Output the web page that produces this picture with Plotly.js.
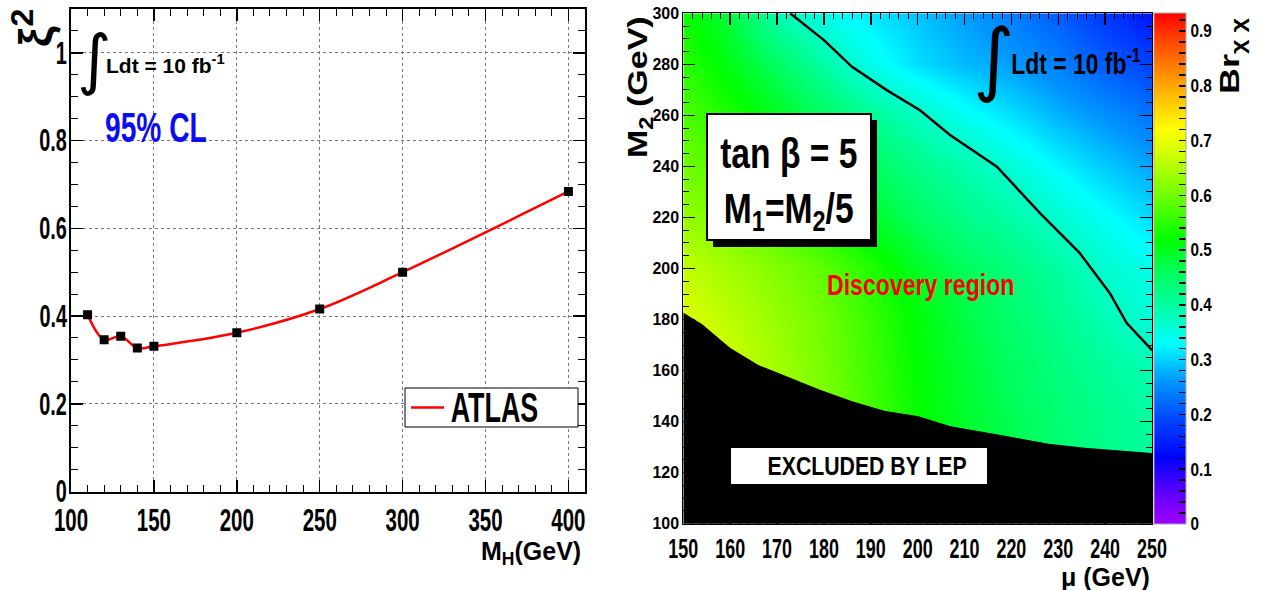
<!DOCTYPE html>
<html>
<head>
<meta charset="utf-8">
<script src="https://cdn.plot.ly/plotly-3.0.1.min.js"></script>
<style>
  html, body { margin: 0; padding: 0; background: #fff; }
  #chart { width: 1269px; height: 590px; }
</style>
</head>
<body>
<div id="chart"></div>
<script>
// ---------------- Left panel data: xi^2 limit vs M_H ----------------
const higgsMass = [110, 120, 130, 140, 150, 200, 250, 300, 400];
const xiSquared = [0.403, 0.346, 0.354, 0.327, 0.331, 0.362, 0.416, 0.500, 0.684];

// ---------------- Right panel data: Br(chi chi) in (mu, M2) plane ----------------
const muValues = [150, 160, 170, 180, 190, 200, 210, 220, 230, 240, 250];
const m2Values = [120, 140, 160, 180, 200, 220, 240, 260, 280, 300];
const brRow120 = [null, null, null, null, null, 0.530, 0.495, 0.470, 0.445, 0.420, 0.405];
const brRow140 = [null, null, 0.650, 0.610, 0.570, 0.525, 0.490, 0.465, 0.440, 0.415, 0.400];
const brRow160 = [0.710, 0.675, 0.640, 0.605, 0.565, 0.520, 0.485, 0.455, 0.430, 0.405, 0.385];
const brRow180 = [0.690, 0.660, 0.630, 0.600, 0.560, 0.515, 0.475, 0.445, 0.415, 0.385, 0.355];
const brRow200 = [0.665, 0.640, 0.615, 0.585, 0.545, 0.495, 0.460, 0.430, 0.400, 0.365, 0.345];
const brRow220 = [0.630, 0.600, 0.570, 0.535, 0.495, 0.455, 0.420, 0.395, 0.365, 0.335, 0.305];
const brRow240 = [0.600, 0.570, 0.535, 0.500, 0.460, 0.420, 0.390, 0.360, 0.325, 0.295, 0.270];
const brRow260 = [0.575, 0.540, 0.500, 0.455, 0.410, 0.375, 0.340, 0.310, 0.280, 0.255, 0.230];
const brRow280 = [0.550, 0.505, 0.455, 0.395, 0.345, 0.310, 0.285, 0.265, 0.240, 0.210, 0.185];
const brRow300 = [0.530, 0.480, 0.385, 0.345, 0.315, 0.290, 0.265, 0.240, 0.210, 0.175, 0.140];

// LEP exclusion boundary (region below is excluded)
const lepMu = [150, 154, 160, 166, 172, 179, 186, 193, 200, 207, 217, 228, 236, 246, 250];
const lepM2 = [182.5, 178, 168.7, 162, 157.6, 152.4, 147.8, 144, 142, 138, 134.8, 131.1, 129.5, 128, 127.5];

// Discovery contour line
const contourMu = [172.8, 180, 186, 193.4, 200.5, 206.9, 216.9, 226.1, 234.6, 241, 244.6, 249.5, 250];
const contourM2 = [300, 289.5, 279, 269.9, 262, 252.3, 239.9, 221.7, 206, 190.3, 178.6, 168.8, 168];

// ---------------- Styling helpers ----------------
const W = 1269, H = 590;
const px = v => v / W;
const py = v => 1 - v / H;
const SANS = '"Liberation Sans", Arial, Helvetica, sans-serif';
const ZMAX = 0.933;

const brGrid = [brRow120, brRow140, brRow160, brRow180, brRow200, brRow220, brRow240, brRow260, brRow280, brRow300];

const stops = [
  [0.00, '#a000ff'], [0.06, '#5a00ff'], [0.12, '#0000ff'], [0.19, '#0046ff'],
  [0.26, '#0096ff'], [0.33, '#00ffff'], [0.40, '#00ffa0'], [0.46, '#00ff5a'],
  [0.52, '#00ff00'], [0.60, '#70ff00'], [0.67, '#c8ff00'], [0.72, '#ffff00'],
  [0.78, '#ffbe00'], [0.84, '#ff7800'], [0.89, '#ff3c00'], [0.933, '#ff0000']
];
const colorscale = stops.map(s => [Math.min(1, s[0] / ZMAX), s[1]]);

const bold = (size, color) => ({ family: SANS, size: size, weight: 'bold', color: color || '#000' });

// ---------------- Traces ----------------
const traces = [
  {
    type: 'scatter', mode: 'lines', x: higgsMass, y: xiSquared,
    name: 'ATLAS', line: { color: '#ff0000', width: 2.5, shape: 'spline' },
    xaxis: 'x', yaxis: 'y', hoverinfo: 'skip', showlegend: false
  },
  {
    type: 'scatter', mode: 'markers', x: higgsMass, y: xiSquared,
    marker: { symbol: 'square', size: 9, color: '#000' },
    showlegend: false, xaxis: 'x', yaxis: 'y', hoverinfo: 'skip'
  },
  {
    type: 'heatmap', x: muValues, y: m2Values, z: brGrid,
    zsmooth: 'best', zmin: 0, zmax: ZMAX, colorscale: colorscale,
    xaxis: 'x2', yaxis: 'y2', showlegend: false, hoverinfo: 'skip',
    colorbar: {
      x: px(1154), xanchor: 'left', y: 1 - 524 / H, yanchor: 'bottom',
      len: 511 / H, lenmode: 'fraction', thickness: 32, thicknessmode: 'pixels',
      xpad: 0, ypad: 0, outlinewidth: 1, outlinecolor: '#aaa',
      ticks: 'inside', ticklen: 7, tickwidth: 1.5, tickcolor: '#000',
      tick0: 0, dtick: 0.02, ticklabelstep: 5,
      tickfont: bold(18)
    }
  },
  {
    type: 'scatter', mode: 'lines', x: lepMu, y: lepM2,
    fill: 'tozeroy', fillcolor: '#000', line: { color: '#000', width: 1 },
    xaxis: 'x2', yaxis: 'y2', showlegend: false, hoverinfo: 'skip'
  },
  {
    type: 'scatter', mode: 'lines', x: contourMu, y: contourM2,
    line: { color: '#000', width: 2.5 },
    xaxis: 'x2', yaxis: 'y2', showlegend: false, hoverinfo: 'skip'
  }
];

// annotations with their horizontal squeeze factor (condensed lettering of the original)
const annSpecs = [
  [{ x: px(494), y: py(407), text: 'ATLAS', font: bold(42) }, 0.64],
  [{ x: px(94), y: py(60), text: '∫', font: { family: '"DejaVu Sans", sans-serif', size: 66, color: '#000' } }, 1],
  [{ x: px(165), y: py(64), text: 'Ldt = 10 fb<sup>-1</sup>', font: bold(21) }, 1],
  [{ x: px(156), y: py(127), text: '95% CL', font: bold(42, '#0b0bf5') }, 0.67],
  [{ x: px(33), y: py(28), textangle: -90, text: 'ξ<sup>2</sup>', font: bold(46) }, 1],
  [{ x: px(583), y: py(553), xanchor: 'right', text: 'M<sub>H</sub>(GeV)', font: bold(25) }, 1],
  [{ x: px(994), y: py(58), text: '∫', font: { family: '"DejaVu Sans", sans-serif', size: 80, color: '#000' } }, 1],
  [{ x: px(1076), y: py(62), text: 'Ldt = 10 fb<sup>-1</sup>', font: bold(29) }, 0.79],
  [{ x: px(789), y: py(184), text: 'tan β = 5<br>M<sub>1</sub>=M<sub>2</sub>/5', font: bold(42) }, 0.8],
  [{ x: px(920), y: py(284), text: 'Discovery region', font: bold(30, '#ff0000') }, 0.77],
  [{ x: px(867), y: py(466), text: 'EXCLUDED BY LEP', font: bold(25) }, 0.85],
  [{ x: px(639), y: py(87), textangle: -90, text: 'M<sub>2</sub> (GeV)', font: bold(34) }, 0.82],
  [{ x: px(1152), y: py(577), xanchor: 'right', text: 'μ (GeV)', font: bold(25) }, 1],
  [{ x: px(1231), y: py(56), textangle: -90, text: 'Br<sub>χ χ</sub>', font: bold(36) }, 0.78]
];
const annotations = annSpecs.map(a => Object.assign(
  { xref: 'paper', yref: 'paper', xanchor: 'center', yanchor: 'middle', showarrow: false }, a[0]));

const layout = {
  width: W, height: H,
  margin: { l: 0, r: 0, t: 0, b: 0, pad: 0 },
  paper_bgcolor: '#fff', plot_bgcolor: '#fff',
  showlegend: false,
  xaxis: {
    domain: [px(71), px(585)], range: [100, 410], anchor: 'y',
    tick0: 100, dtick: 50, ticks: 'inside', ticklen: 12, tickwidth: 1.5, tickcolor: '#000',
    showline: true, linecolor: '#000', linewidth: 2, mirror: 'ticks',
    showgrid: true, gridcolor: '#777', griddash: 'dot', gridwidth: 1, zeroline: false,
    tickfont: bold(31), tickangle: 0,
    minor: { dtick: 10, ticks: 'inside', ticklen: 7, tickwidth: 1, tickcolor: '#000', showgrid: false }
  },
  yaxis: {
    domain: [py(491.5), py(9)], range: [0, 1.1], anchor: 'x',
    tick0: 0, dtick: 0.2, ticks: 'inside', ticklen: 12, tickwidth: 1.5, tickcolor: '#000',
    showline: true, linecolor: '#000', linewidth: 2, mirror: 'ticks',
    showgrid: true, gridcolor: '#777', griddash: 'dot', gridwidth: 1, zeroline: false,
    tickfont: bold(31),
    minor: { dtick: 0.05, ticks: 'inside', ticklen: 7, tickwidth: 1, tickcolor: '#000', showgrid: false }
  },
  xaxis2: {
    domain: [px(683.3), px(1152)], range: [150, 250], anchor: 'y2',
    tick0: 150, dtick: 10, ticks: 'inside', ticklen: 12, tickwidth: 1.5, tickcolor: '#000',
    showline: true, linecolor: '#000', linewidth: 1, mirror: 'ticks',
    showgrid: false, zeroline: false,
    tickfont: bold(28), tickangle: 0,
    minor: { dtick: 2, ticks: 'inside', ticklen: 6, tickwidth: 1, tickcolor: '#000', showgrid: false }
  },
  yaxis2: {
    domain: [py(523.7), py(13.3)], range: [100, 300], anchor: 'x2',
    tick0: 100, dtick: 20, ticks: 'inside', ticklen: 12, tickwidth: 1.5, tickcolor: '#000',
    showline: true, linecolor: '#000', linewidth: 1, mirror: 'ticks',
    showgrid: false, zeroline: false,
    tickfont: bold(16),
    minor: { dtick: 5, ticks: 'inside', ticklen: 6, tickwidth: 1, tickcolor: '#000', showgrid: false }
  },
  shapes: [
    // legend box of left panel
    { type: 'rect', xref: 'paper', yref: 'paper', x0: px(405), x1: px(578), y0: py(427), y1: py(388),
      fillcolor: '#fff', line: { color: '#000', width: 1 }, layer: 'above' },
    { type: 'line', xref: 'paper', yref: 'paper', x0: px(411), x1: px(444), y0: py(407.5), y1: py(407.5),
      line: { color: '#ff0000', width: 2.5 }, layer: 'above' },
    // tan beta text box with shadow
    { type: 'rect', xref: 'paper', yref: 'paper', x0: px(713), x1: px(877), y0: py(247), y1: py(120),
      fillcolor: '#000', line: { width: 0 }, layer: 'above' },
    { type: 'rect', xref: 'paper', yref: 'paper', x0: px(707), x1: px(871), y0: py(240), y1: py(114),
      fillcolor: '#fff', line: { color: '#000', width: 2 }, layer: 'above' },
    // EXCLUDED BY LEP label box
    { type: 'rect', xref: 'paper', yref: 'paper', x0: px(731), x1: px(987), y0: py(484), y1: py(448),
      fillcolor: '#fff', line: { width: 0 }, layer: 'above' }
  ],
  annotations: annotations
};

// condense a text element horizontally on screen (keeps its anchor point in place)
function squeezeText(t, s, rotated, dx) {
  const bb = t.getBBox();
  if (!bb.width) return;
  const old = t.getAttribute('transform') || '';
  const shift = dx ? ' translate(' + dx + ',0)' : '';
  if (rotated) {
    const cy = bb.y + bb.height / 2;
    t.setAttribute('transform', old + ' translate(0,' + cy + ') scale(1,' + s + ') translate(0,' + (-cy) + ')');
  } else {
    const a = t.getAttribute('text-anchor') || 'start';
    const cx = a === 'end' ? bb.x + bb.width : (a === 'middle' ? bb.x + bb.width / 2 : bb.x);
    t.setAttribute('transform', old + shift + ' translate(' + cx + ',0) scale(' + s + ',1) translate(' + (-cx) + ',0)');
  }
}

const gd = document.getElementById('chart');
Plotly.newPlot(gd, traces, layout, { displayModeBar: false, staticPlot: true }).then(() => {
  gd.querySelectorAll('.xtick text').forEach(t => squeezeText(t, 0.66));
  gd.querySelectorAll('.ytick text').forEach(t => squeezeText(t, 0.64, false, 4));
  gd.querySelectorAll('.x2tick text').forEach(t => squeezeText(t, 0.64));
  gd.querySelectorAll('.colorbar text').forEach(t => squeezeText(t, 0.85));
  annSpecs.forEach((a, i) => {
    const t = gd.querySelector('.annotation[data-index="' + i + '"] text');
    if (t && a[1] !== 1) squeezeText(t, a[1], !!a[0].textangle);
  });
  // drop empty placeholder text nodes (unused titles)
  gd.querySelectorAll('text').forEach(t => { if (!t.textContent.trim()) t.remove(); });
});
</script>
</body>
</html>
